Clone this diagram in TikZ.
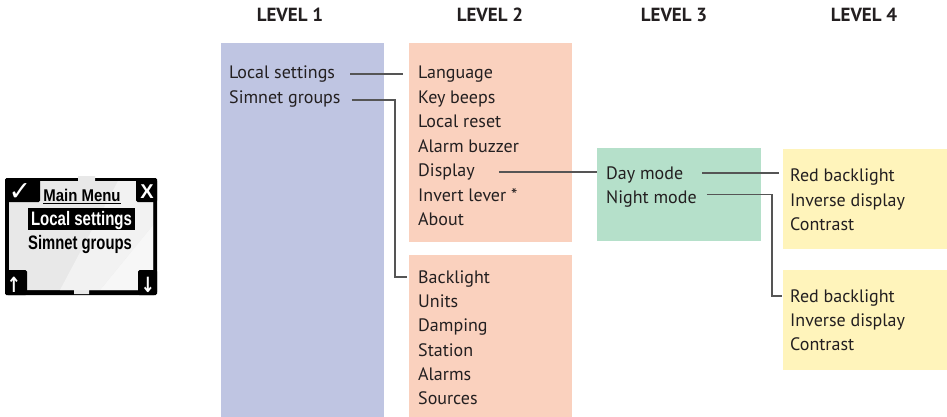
\documentclass[tikz,border=0pt]{standalone}
\usepackage{fontspec}
\setmainfont{PT Sans}
\newfontfamily\symfont{DejaVu Sans}
\newfontfamily\lcdfont{Liberation Sans}
\begin{document}
\begin{tikzpicture}[x=1pt,y=-1pt,
  lv/.style={font=\fontsize{19}{20}\selectfont\bfseries, text=txt, anchor=base, inner sep=0pt},
  item/.style={font=\fontsize{18}{20}\selectfont, text=txt, anchor=base west, inner sep=0pt},
  conn/.style={draw=lineg, line width=1.3pt},
  lcdtext/.style={inner sep=0pt, anchor=base}]
\definecolor{txt}{HTML}{231F20}
\definecolor{lineg}{HTML}{555555}
\definecolor{lblue}{HTML}{BFC5E2}
\definecolor{lsalmon}{HTML}{FAD1BE}
\definecolor{lgreen}{HTML}{B5E0CA}
\definecolor{lyellow}{HTML}{FFF4BB}
\useasboundingbox (0,0) rectangle (947,417);
\fill[white] (0,0) rectangle (947,417);

% headers
\node[lv] (h1) at (290,22) {LEVEL 1};
\node[lv] (h2) at (490,22) {LEVEL 2};
\node[lv] (h3) at (674,22) {LEVEL 3};
\node[lv] (h4) at (864,22) {LEVEL 4};

% boxes
\fill[lblue] (221,43) rectangle (384,417);
\fill[lsalmon] (409,43) rectangle (572,242);
\fill[lsalmon] (409,255) rectangle (572,417);
\fill[lgreen] (597,148) rectangle (761,241);
\fill[lyellow] (783,149) rectangle (947,249);
\fill[lyellow] (783,270) rectangle (947,370);

% level 1
\node[item] (ls) at (229,79) {Local settings};
\node[item] (sg) at (229,104) {Simnet groups};

% level 2 A
\node[item] (lang) at (418,79) {Language};
\node[item] (kb) at (418,103.5) {Key beeps};
\node[item] (lr) at (418,128) {Local reset};
\node[item] (ab) at (418,152) {Alarm buzzer};
\node[item] (disp) at (418,176.5) {Display};
\node[item] (inv) at (418,201) {Invert lever *};
\node[item] (about) at (418,225.5) {About};

% level 2 B
\node[item] (bl) at (418,283) {Backlight};
\node[item] (un) at (418,307.3) {Units};
\node[item] (dam) at (418,331.6) {Damping};
\node[item] (st) at (418,356) {Station};
\node[item] (al) at (418,380.3) {Alarms};
\node[item] (src) at (418,404.5) {Sources};

% level 3
\node[item] (day) at (606,179) {Day mode};
\node[item] (night) at (606,203) {Night mode};

% level 4 A
\node[item] (rb1) at (790,181.7) {Red backlight};
\node[item] (id1) at (790,206) {Inverse display};
\node[item] (co1) at (790,230.3) {Contrast};
% level 4 B
\node[item] (rb2) at (790,302.3) {Red backlight};
\node[item] (id2) at (790,326.5) {Inverse display};
\node[item] (co2) at (790,350.7) {Contrast};

% connectors
\coordinate (lsA) at ([yshift=5pt]ls.base east);
\coordinate (langA) at ([yshift=5pt]lang.base west);
\draw[conn] ([xshift=15pt]lsA) -- ([xshift=-15pt]langA);
\coordinate (sgA) at ([yshift=4pt]sg.base east);
\coordinate (blA) at ([yshift=6pt]bl.base west);
\draw[conn] ([xshift=11pt]sgA) -| ([xshift=-23pt]blA) -- ([xshift=-11pt]blA);
\coordinate (dispA) at ([yshift=4.5pt]disp.base east);
\draw[conn] ([xshift=24pt]dispA) -- ([xshift=-9pt]dispA -| day.west);
\coordinate (dayA) at ([yshift=6pt]day.base east);
\draw[conn] ([xshift=19pt]dayA) -- ([xshift=-11pt]dayA -| rb1.west);
\coordinate (nightA) at ([yshift=8.5pt]night.base east);
\coordinate (rb2A) at ([yshift=6.3pt]rb2.base west);
\draw[conn] ([xshift=10pt]nightA) -| ([xshift=-18pt]rb2A) -- ([xshift=-8pt]rb2A);

% LCD device icon
\fill[black, rounded corners=3pt] (5,178) rectangle (157,295) ;
\fill[gray!18] (9,181) -- (78,181) -- (78,176) -- (95,176) -- (95,181) -- (153,181)
  -- (153,290) -- (89,290) -- (89,294) -- (74,294) -- (74,290) -- (9,290) -- cycle;
\fill[gray!6] (100,290) -- (153,225) -- (153,290) -- cycle;
\fill[gray!10] (118,181) -- (153,181) -- (153,225) -- (100,290) -- (60,290) -- cycle;
% corner blocks
\fill[black, rounded corners=1.5pt] (5,178) rectangle (40,202);
\fill[black, rounded corners=1.5pt] (136,178) rectangle (157,202);
\fill[black, rounded corners=1.5pt] (5,270) rectangle (27,295);
\fill[black, rounded corners=1.5pt] (138,270) rectangle (157,295);
\node[lcdtext, text=white, font=\symfont\fontsize{27}{28}\selectfont\bfseries] (chk) at (20,200) {✓};
\node[lcdtext, text=white, font=\lcdfont\fontsize{20}{20}\selectfont\bfseries] (xk) at (147,198) {X};
\node[lcdtext, text=white, font=\symfont\fontsize{21}{22}\selectfont\bfseries] (up) at (14,292) {\scalebox{0.8}[1]{↑}};
\node[lcdtext, text=white, font=\symfont\fontsize{21}{22}\selectfont\bfseries] (dn) at (148,292) {\scalebox{0.8}[1]{↓}};
% screen text
\node[lcdtext, font=\lcdfont\fontsize{17}{18}\selectfont\bfseries] (mm) at (82,201.5)
  {\scalebox{0.88}[1]{\underline{Main Menu}}};
\fill[black] (28,208) rectangle (135,230);
\node[lcdtext, text=white, font=\lcdfont\fontsize{19.5}{20}\selectfont\bfseries] (lsm) at (81.5,225)
  {\scalebox{0.77}[1]{Local settings}};
\node[lcdtext, font=\lcdfont\fontsize{19.5}{20}\selectfont\bfseries] (sgm) at (80,249)
  {\scalebox{0.76}[1]{Simnet groups}};
\end{tikzpicture}
\end{document}
